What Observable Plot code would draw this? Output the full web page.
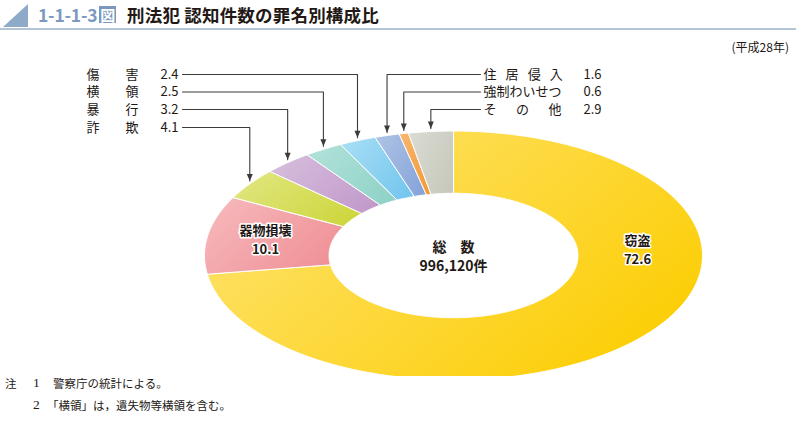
<!DOCTYPE html>
<html><head><meta charset="utf-8">
<script src="https://cdn.jsdelivr.net/npm/d3@7"></script>
<script src="https://cdn.jsdelivr.net/npm/@observablehq/plot@0.6"></script>
<style>
body{margin:0;background:#fff;font-family:"Noto Sans CJK JP",sans-serif;color:#231815}
#page{position:relative;width:796px;height:424px;overflow:hidden}
#tri{position:absolute;left:3px;top:4px;width:0;height:0;border-left:25px solid transparent;border-bottom:23px solid #8faac9}
#rule{position:absolute;left:0;top:28px;width:796px;height:2px;background:#b3c4d6}
#t1{position:absolute;left:38px;top:2px;font-size:17.5px;font-weight:bold;color:#7b99bf;white-space:nowrap;letter-spacing:-0.2px}
#t1 .box{display:inline-block;background:#7b99bf;color:#fff;font-size:15px;line-height:17px;padding:0 1px;margin-left:2px;vertical-align:1px}
#t2{position:absolute;left:127px;top:2px;font-size:17.5px;font-weight:bold;color:#231815;white-space:nowrap;letter-spacing:0.2px}
#year{position:absolute;right:7px;top:38px;font-size:12px;color:#231815}
#chart{position:absolute;left:0;top:36px}
.note{position:absolute;font-size:11.5px;line-height:16px;color:#231815;white-space:nowrap;font-family:"Noto Sans CJK JP",sans-serif}
.num{font-family:"Liberation Serif",serif;font-size:13.5px}
</style></head>
<body><div id="page">
<div id="tri"></div><div id="rule"></div>
<div id="t1">1-1-1-3<span class="box">図</span></div>
<div id="t2">刑法犯 認知件数の罪名別構成比</div>
<div id="year">(平成28年)</div>
<div id="chart"></div>
<div class="note" style="left:5px;top:375px">注</div>
<div class="note num" style="left:33px;top:375px">1</div>
<div class="note" style="left:53px;top:375px">警察庁の統計による。</div>
<div class="note num" style="left:33px;top:397px">2</div>
<div class="note" style="left:47px;top:397px">「横領」は，遺失物等横領を含む。</div>
</div>
<script>
// ---- data ----
const categories = ["窃盗","器物損壊","詐欺","暴行","横領","傷害","住居侵入","強制わいせつ","その他"];
const shares = [72.6, 10.1, 4.1, 3.2, 2.5, 2.4, 1.6, 0.6, 2.9];
const labelNames = ["窃盗","器物損壊","詐\u3000\u3000欺","暴\u3000\u3000行","横\u3000\u3000領","傷\u3000\u3000害","住\u2002\u2009居\u2002\u2009侵\u2002\u2009入","強制わいせつ","そ\u3000\u2002の\u3000\u2002他"];
const totalLabel = ["総\u3000数", "996,120件"];
const colorsLight = ["#fee370","#f6b8bb","#e0e67e","#d6bcdc","#b0e1d9","#a6ddf5","#acc2e5","#f8b46c","#d9dad0"];
const colorsDark  = ["#fccd00","#ef8f95","#cdd63c","#c19aca","#90d2c6","#74c6ee","#87a4d9","#f39a36","#c8c9bd"];

// ---- layout (pixels within the svg) ----
const W = 796, H = 340;
const CX = 453, CY = 219, RX = 249, RY = 124.5, INNER = 0.5;
const toX = px => (px - CX) / RX;
const toY = py => (CY - py) / RY;
const rowsLeft = {"傷害":38, "横領":55.5, "暴行":73, "詐欺":91};
const rowsRight = {"住居侵入":38, "強制わいせつ":55.5, "その他":73};

// ---- slices ----
const total = d3.sum(shares);
let acc = 0;
const slices = categories.map((c, i) => {
  const a0 = acc / total * 2 * Math.PI; acc += shares[i];
  const a1 = acc / total * 2 * Math.PI;
  return {cat: c, i, a0, a1, mid: (a0 + a1) / 2, value: shares[i]};
});
const pts = [];
for (const s of slices) {
  const n = Math.max(3, Math.ceil((s.a1 - s.a0) * 180 / Math.PI * 1.5));
  const ring = [];
  for (let k = 0; k <= n; k++) { const a = s.a0 + (s.a1 - s.a0) * k / n; ring.push([Math.sin(a), Math.cos(a)]); }
  for (let k = n; k >= 0; k--) { const a = s.a0 + (s.a1 - s.a0) * k / n; ring.push([INNER * Math.sin(a), INNER * Math.cos(a)]); }
  ring.push(ring[0]);
  for (const [x, y] of ring) pts.push({cat: s.cat, x, y});
}

// ---- leaders ----
const leaderPts = [], tips = [], sideLabels = [];
for (const s of slices) {
  const key = s.cat;
  let row, side;
  if (key in rowsLeft) { row = rowsLeft[key]; side = "L"; }
  else if (key in rowsRight) { row = rowsRight[key]; side = "R"; }
  else continue;
  const ax = Math.sin(s.mid), ay = Math.cos(s.mid) + 3 / RY;
  const startPx = side === "L" ? 182 : 480;
  leaderPts.push({cat: key, x: toX(startPx), y: toY(row)});
  leaderPts.push({cat: key, x: ax, y: toY(row)});
  leaderPts.push({cat: key, x: ax, y: ay});
  tips.push({x: ax, y: ay});
  sideLabels.push({name: labelNames[s.i], value: s.value.toFixed(1), side, y: toY(row)});
}
const downTri = {draw(ctx) { ctx.moveTo(-3, -7); ctx.lineTo(3, -7); ctx.lineTo(0, 0); ctx.closePath(); }};

const FONT = "Noto Sans CJK JP";
const ink = "#231815";
const inner = [
  {t: totalLabel[0], x: 0, y: toY(211)},
  {t: totalLabel[1], x: 0, y: toY(230)}
];
const bigLabels = [
  {t: categories[0], x: toX(637), y: toY(204)},
  {t: shares[0].toFixed(1), x: toX(637), y: toY(223)},
  {t: categories[1], x: toX(265), y: toY(194)},
  {t: shares[1].toFixed(1), x: toX(265), y: toY(213)}
];

const svg = Plot.plot({
  width: W, height: H, margin: 0,
  x: {domain: [-1, 1], range: [CX - RX, CX + RX], axis: null},
  y: {domain: [-1, 1], range: [CY + RY, CY - RY], axis: null},
  color: {type: "ordinal", domain: categories, range: categories.map((c, i) => `url(#g${i})`)},
  style: {fontFamily: FONT},
  marks: [
    Plot.line(pts, {x: "x", y: "y", z: "cat", fill: "cat", stroke: "#ffffff", strokeWidth: 1, curve: "linear"}),
    Plot.line(leaderPts, {x: "x", y: "y", z: "cat", stroke: "#3e3a39", strokeWidth: 1.1, curve: "linear"}),
    Plot.dot(tips, {x: "x", y: "y", symbol: downTri, fill: "#3e3a39", stroke: "none"}),
    Plot.text(sideLabels.filter(d => d.side === "L"), {x: () => toX(86), y: "y", text: "name", textAnchor: "start", fontSize: 13, fill: ink}),
    Plot.text(sideLabels.filter(d => d.side === "L"), {x: () => toX(178), y: "y", text: "value", textAnchor: "end", fontSize: 13, fill: ink}),
    Plot.text(sideLabels.filter(d => d.side === "R"), {x: () => toX(483), y: "y", text: "name", textAnchor: "start", fontSize: 13, fill: ink}),
    Plot.text(sideLabels.filter(d => d.side === "R"), {x: () => toX(601), y: "y", text: "value", textAnchor: "end", fontSize: 13, fill: ink}),
    Plot.text(inner, {x: "x", y: "y", text: "t", fontSize: 14, fontWeight: "bold", fill: ink}),
    Plot.text(bigLabels, {x: "x", y: "y", text: "t", fontSize: 13, fontWeight: "bold", fill: ink, stroke: "#ffffff", strokeWidth: 3, paintOrder: "stroke"})
  ]
});
const defs = d3.select(svg).insert("defs", ":first-child");
categories.forEach((c, i) => {
  const g = defs.append("linearGradient").attr("id", `g${i}`)
    .attr("x1", 0).attr("y1", 0.2).attr("x2", 1).attr("y2", 0.8);
  g.append("stop").attr("offset", "0%").attr("stop-color", colorsLight[i]);
  g.append("stop").attr("offset", "100%").attr("stop-color", colorsDark[i]);
});
document.getElementById("chart").appendChild(svg);
</script>
</body></html>
